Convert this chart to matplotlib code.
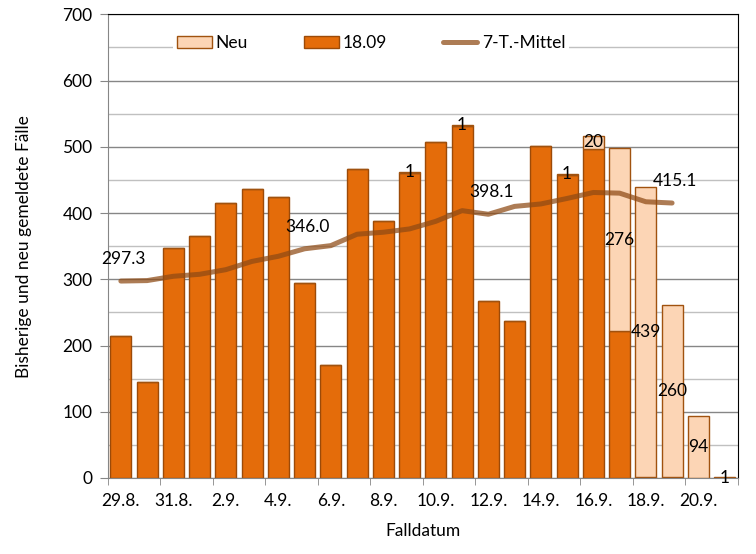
import numpy as np
import matplotlib
matplotlib.use('Agg')
import matplotlib.pyplot as plt
from matplotlib.ticker import MultipleLocator

plt.rcParams['font.family'] = ['Lato', 'DejaVu Sans']
matplotlib.rc('xtick', labelsize=12.5)
matplotlib.rc('ytick', labelsize=12.5)

# Falldatum
dates = ['29.8.', '30.8.', '31.8.', '1.9.', '2.9.', '3.9.', '4.9.', '5.9.',
         '6.9.', '7.9.', '8.9.', '9.9.', '10.9.', '11.9.', '12.9.', '13.9.',
         '14.9.', '15.9.', '16.9.', '17.9.', '18.9.', '19.9.', '20.9.', '21.9.']
# Stand 18.09
old = [214, 145, 347, 365, 415, 436, 424, 294, 171, 467, 388, 461,
       507, 532, 267, 237, 501, 458, 497, 222, 1, 1, 0, 0]
# neu gemeldet
new = [0, 0, 0, 0, 0, 0, 0, 0, 0, 0, 0, 1,
       0, 1, 0, 0, 0, 1, 20, 276, 439, 260, 94, 1]
# 7-Tage-Mittel
avg7 = [297.3, 298, 304.5, 307.5, 314.5, 327, 334.7, 346.0, 350.8, 368, 371,
        376, 387.5, 403.6, 398.1, 410, 413.7, 422, 431, 430, 417, 415.1]
avg_labels = [0, 7, 14, 21]

x = np.arange(len(dates))
old = np.array(old)
new = np.array(new)

fig = plt.figure(figsize=(7.56, 5.54), dpi=100)
ax = fig.add_axes([0.1425, 0.1372, 0.8333, 0.837])

ax.bar(x, old, width=0.8, color='#E46C0A', edgecolor='#9C4A08', linewidth=1,
       label='18.09', zorder=2)
ax.bar(x, new, width=0.8, bottom=old, color='#FCD5B5', edgecolor='#A0520F',
       linewidth=1, label='Neu', zorder=2)

for i in range(len(x)):
    if new[i] > 0:
        ax.text(x[i], old[i] + new[i] / 2, str(new[i]), ha='center',
                va='center', fontsize=12.5, zorder=4)

ax.plot(x[:len(avg7)], avg7, color='#8E4A14', alpha=0.72, linewidth=3.6,
        solid_capstyle='round', label='7-T.-Mittel', zorder=3)
for i in avg_labels:
    ax.annotate('%.1f' % avg7[i], (x[i], avg7[i]), xytext=(2, 16),
                textcoords='offset points', ha='center', va='center',
                fontsize=12.5, zorder=4)

ax.set_xlim(-0.5, len(dates) - 0.5)
ax.set_ylim(0, 700)
ax.yaxis.set_major_locator(MultipleLocator(100))
ax.yaxis.set_minor_locator(MultipleLocator(50))
ax.grid(axis='y', which='major', color='#868686', linewidth=1, zorder=0)
ax.grid(axis='y', which='minor', color='#C0C0C0', linewidth=1, zorder=0)
ax.set_axisbelow(True)
ax.tick_params(axis='y', which='major', length=6, color='#868686', pad=5)
ax.tick_params(axis='y', which='minor', length=0)

ax.set_xticks(x[::2])
ax.set_xticklabels(dates[::2])
ax.set_xticks(np.arange(-0.5, len(dates), 2), minor=True)
ax.tick_params(axis='x', which='major', length=0, pad=11)
ax.tick_params(axis='x', which='minor', length=5, color='#868686')

for s in ['left', 'bottom']:
    ax.spines[s].set_color('#868686')
for s in ['top', 'right']:
    ax.spines[s].set_color('black')

ax.set_xlabel('Falldatum', fontsize=12.5, labelpad=10)
ax.set_ylabel('Bisherige und neu gemeldete Fälle', fontsize=12.5, labelpad=22)

h, l = ax.get_legend_handles_labels()
order = [l.index('Neu'), l.index('18.09'), l.index('7-T.-Mittel')]
leg = ax.legend([h[k] for k in order], [l[k] for k in order], ncol=3,
                loc='center', bbox_to_anchor=(0.418, 0.9375), fontsize=12.5,
                frameon=True, edgecolor='none', facecolor='white',
                framealpha=1, fancybox=False, columnspacing=3.2,
                handlelength=2.0, handleheight=0.7, handletextpad=0.25,
                borderpad=0.2)

fig.savefig('out.png', dpi=100)
